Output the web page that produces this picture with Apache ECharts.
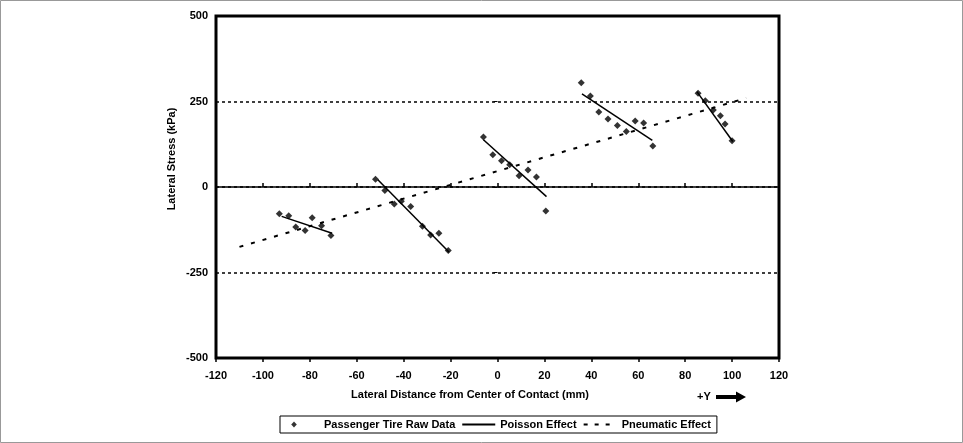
<!DOCTYPE html>
<html><head><meta charset="utf-8">
<script src="https://cdn.jsdelivr.net/npm/echarts@6/dist/echarts.min.js"></script>
<style>html,body{margin:0;padding:0;background:#fff}#c{width:963px;height:443px}</style>
</head><body><div id="c"></div>
<script>
// ---- data ----
const xMin = -120, xMax = 120, xStep = 20;
const yMin = -500, yMax = 500, yStep = 250;
const rawX = [-93, -89, -86, -82, -79, -75, -71,
              -52, -48, -44, -41, -37, -32, -28.5, -25, -21,
              -6, -2, 1.7, 5.2, 9.2, 13, 16.6, 20.6,
              35.7, 39.6, 43.2, 47.1, 51.1, 54.9, 58.7, 62.3, 66.2,
              85.5, 88.6, 92, 95, 97, 100];
const rawY = [-78, -84, -117, -127, -90, -113, -142,
              23, -10, -50, -42, -57, -115, -140, -135, -186,
              146, 94, 77, 65, 33, 50, 29, -70,
              305, 266, 219, 199, 180, 162, 193, 187, 120,
              274, 252, 225, 208, 184, 135];
const poissonStartX = [-92, -51, -6, 36, 85];
const poissonStartY = [-86, 21, 138, 272, 279];
const poissonEndX = [-70.5, -20.6, 20.9, 66, 100.3];
const poissonEndY = [-135, -191, -28, 136, 133];
const pneumaticX = [-110, 106];
const pneumaticY = [-175, 260];
const seriesNames = ['Passenger Tire Raw Data', 'Poisson Effect', 'Pneumatic Effect'];
const xTitle = 'Lateral Distance from Center of Contact (mm)';
const yTitle = 'Lateral Stress (kPa)';
const dirLabel = '+Y';

// ---- chart ----
const chart = echarts.init(document.getElementById('c'), null, {renderer: 'canvas'});
const font = 'Liberation Sans, Arial, sans-serif';
const black = '#000';

const series = [];
series.push({
  name: seriesNames[0], type: 'scatter', symbol: 'diamond', symbolSize: 7,
  itemStyle: {color: black}, z: 5,
  data: rawX.map((x, i) => [x, rawY[i]])
});
for (let i = 0; i < poissonStartX.length; i++) {
  series.push({
    name: seriesNames[1], type: 'line', symbol: 'none', showSymbol: false,
    lineStyle: {color: black, width: 1.5}, itemStyle: {color: black}, z: 4,
    data: [[poissonStartX[i], poissonStartY[i]], [poissonEndX[i], poissonEndY[i]]]
  });
}
series.push({
  name: seriesNames[2], type: 'line', symbol: 'none', showSymbol: false,
  lineStyle: {color: black, width: 2, type: [4, 8]}, itemStyle: {color: black}, z: 3,
  data: pneumaticX.map((x, i) => [x, pneumaticY[i]])
});

const xBase = {type: 'value', min: xMin, max: xMax, interval: xStep, gridIndex: 0, splitLine: {show: false}};
const hiddenSymbol = {color: 'rgba(0,0,0,0)', opacity: 0, borderWidth: 0};
// small diamond inside a 33x7 icon box (moveTo points fix the box extents)
const diamondIcon = 'path://M0,0M33,7M8,0.5L10.8,3.5L8,6.5L5.2,3.5Z';

chart.setOption({
  animation: false,
  backgroundColor: '#fff',
  grid: {left: 216, right: 184, top: 16, bottom: 85, show: true, borderColor: black, borderWidth: 3, backgroundColor: 'transparent', containLabel: false},
  xAxis: [
    Object.assign({}, xBase, {position: 'bottom', axisLine: {show: false, onZero: false}, axisTick: {show: false},
      axisLabel: {color: black, fontFamily: font, fontWeight: 'bold', fontSize: 11, margin: 12}}),
    Object.assign({}, xBase, {position: 'bottom', axisLine: {show: true, onZero: true, lineStyle: {color: black, width: 1.5}},
      axisTick: {show: true, inside: true, length: 4, lineStyle: {color: black, width: 1.5}}, axisLabel: {show: false}}),
    Object.assign({}, xBase, {position: 'bottom', axisLine: {show: false, onZero: true},
      axisTick: {show: true, inside: false, length: 4, lineStyle: {color: black, width: 1.5}}, axisLabel: {show: false}})
  ],
  yAxis: {
    type: 'value', min: yMin, max: yMax, interval: yStep,
    axisLine: {show: false}, axisTick: {show: true, length: 4, lineStyle: {color: black}},
    axisLabel: {color: black, fontFamily: font, fontWeight: 'bold', fontSize: 11, margin: 8},
    splitLine: {show: true, lineStyle: {color: black, width: 1.5, type: [3, 3]}}
  },
  legend: {
    left: 280, top: 416, orient: 'horizontal',
    data: [
      {name: seriesNames[0], icon: diamondIcon},
      {name: seriesNames[1], itemStyle: hiddenSymbol},
      {name: seriesNames[2], itemStyle: hiddenSymbol, lineStyle: {width: 2, type: [4, 7]}}
    ],
    borderColor: black, borderWidth: 1, padding: [3, 6, 3, 6], itemGap: 6,
    itemWidth: 33, itemHeight: 7,
    textStyle: {color: black, fontFamily: font, fontWeight: 'bold', fontSize: 11}
  },
  graphic: [
    {type: 'rect', shape: {x: 0.5, y: 0.5, width: 962, height: 442}, style: {fill: 'none', stroke: '#999', lineWidth: 1}, silent: true},
    {type: 'text', x: 172, y: 159, rotation: Math.PI / 2, style: {text: yTitle, fill: black, font: 'bold 11px ' + font, textAlign: 'center', textVerticalAlign: 'middle'}},
    {type: 'text', x: 470, y: 395, style: {text: xTitle, fill: black, font: 'bold 11px ' + font, textAlign: 'center', textVerticalAlign: 'middle'}},
    {type: 'text', x: 697, y: 397, style: {text: dirLabel, fill: black, font: 'bold 11px ' + font, textAlign: 'left', textVerticalAlign: 'middle'}},
    {type: 'polygon', shape: {points: [[716, 395], [736, 395], [736, 391.5], [746, 397], [736, 402.5], [736, 399], [716, 399]]}, style: {fill: black}}
  ],
  series: series
});
</script></body></html>
